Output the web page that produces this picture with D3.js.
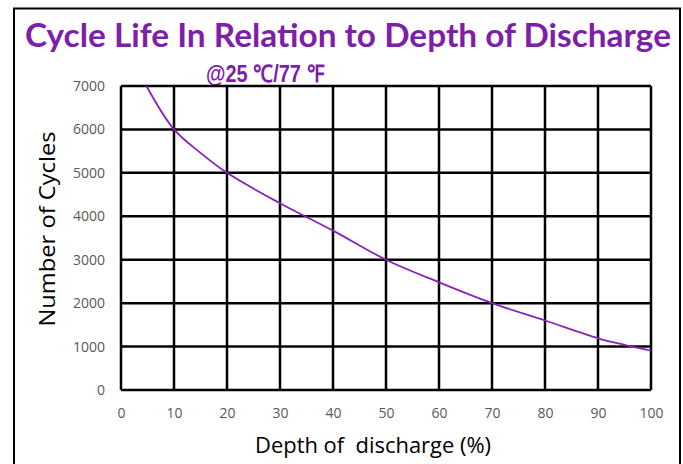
<!DOCTYPE html>
<html><head><meta charset="utf-8">
<script src="https://cdn.jsdelivr.net/npm/d3@7"></script>
<style>body{margin:0;background:#fff}svg{display:block}</style>
</head><body>
<script>
const depth = [4.8, 10, 15, 20, 30, 40, 50, 60, 70, 80, 90, 95, 100];
const cycles = [7000, 6000, 5460, 5000, 4300, 3670, 3000, 2480, 2000, 1600, 1190, 1040, 905];
const xTicks = [0,10,20,30,40,50,60,70,80,90,100];
const yTicks = [0,1000,2000,3000,4000,5000,6000,7000];
const title = "Cycle Life In Relation to Depth of Discharge";
const subtitle = "@25 ℃/77 ℉";
const xLabel = "Depth of  discharge (%)";
const yLabel = "Number of Cycles";

const W = 683, H = 464;
const svg = d3.select("body").append("svg").attr("width", W).attr("height", H);
svg.append("rect").attr("x", 14).attr("y", 8.5).attr("width", 666).attr("height", 470)
  .attr("fill", "#fff").attr("stroke", "#000").attr("stroke-width", 2);

const x = d3.scaleLinear().domain([0,100]).range([121, 651]);
const y = d3.scaleLinear().domain([0,7000]).range([390, 86]);

const purple = "#7d1fa8";
svg.append("text").attr("x", 348).attr("y", 47).attr("text-anchor", "middle")
  .attr("font-family", "Lato").attr("font-weight", "bold").attr("font-size", 33)
  .attr("textLength", 646).attr("lengthAdjust", "spacingAndGlyphs")
  .attr("fill", purple).text(title);
svg.append("text").attr("x", 265).attr("y", 82).attr("text-anchor", "middle")
  .attr("font-family", "Liberation Sans, Arial").attr("font-weight", "bold").attr("font-size", 24)
  .attr("textLength", 118).attr("lengthAdjust", "spacingAndGlyphs")
  .style("white-space", "pre")
  .attr("fill", purple).text(subtitle);

const g = svg.append("g");
g.selectAll(".vg").data(xTicks).enter().append("line")
  .attr("x1", d => x(d)).attr("x2", d => x(d)).attr("y1", y(0)).attr("y2", y(7000))
  .attr("stroke", "#000").attr("stroke-width", 2.5);
g.selectAll(".hg").data(yTicks).enter().append("line")
  .attr("x1", x(0)).attr("x2", x(100)).attr("y1", d => y(d)).attr("y2", d => y(d))
  .attr("stroke", "#000").attr("stroke-width", 2.5);

const fmt = d3.format("d");
const xAxis = d3.axisBottom(x).tickValues(xTicks).tickFormat(fmt).tickSize(0).tickPadding(18);
const xa = svg.append("g").attr("transform", `translate(0,${y(0)})`).call(xAxis);
const yAxis = d3.axisLeft(y).tickValues(yTicks).tickFormat(fmt).tickSize(0).tickPadding(16);
const ya = svg.append("g").attr("transform", `translate(${x(0)},0)`).call(yAxis);
[xa, ya].forEach(a => {
  a.select(".domain").remove();
  a.selectAll("text").attr("font-family", "Open Sans, Lato").attr("font-size", 14).attr("fill", "#595959");
});

const line = d3.line().x((d,i) => x(depth[i])).y(d => y(d)).curve(d3.curveCatmullRom.alpha(0.5));
svg.append("path").datum(cycles).attr("d", line).attr("fill", "none")
  .attr("stroke", "#8a22b8").attr("stroke-width", 1.8);

svg.append("text").attr("x", 373).attr("y", 453).attr("text-anchor", "middle")
  .attr("font-family", "Open Sans, Lato").attr("font-size", 21)
  .attr("textLength", 236).attr("lengthAdjust", "spacingAndGlyphs")
  .style("white-space", "pre")
  .attr("fill", "#000").text(xLabel);
svg.append("text").attr("transform", "translate(55,229) rotate(-90)").attr("text-anchor", "middle")
  .attr("font-family", "Open Sans, Lato").attr("font-size", 21)
  .attr("textLength", 195).attr("lengthAdjust", "spacingAndGlyphs")
  .attr("fill", "#000").text(yLabel);
</script>
</body></html>
